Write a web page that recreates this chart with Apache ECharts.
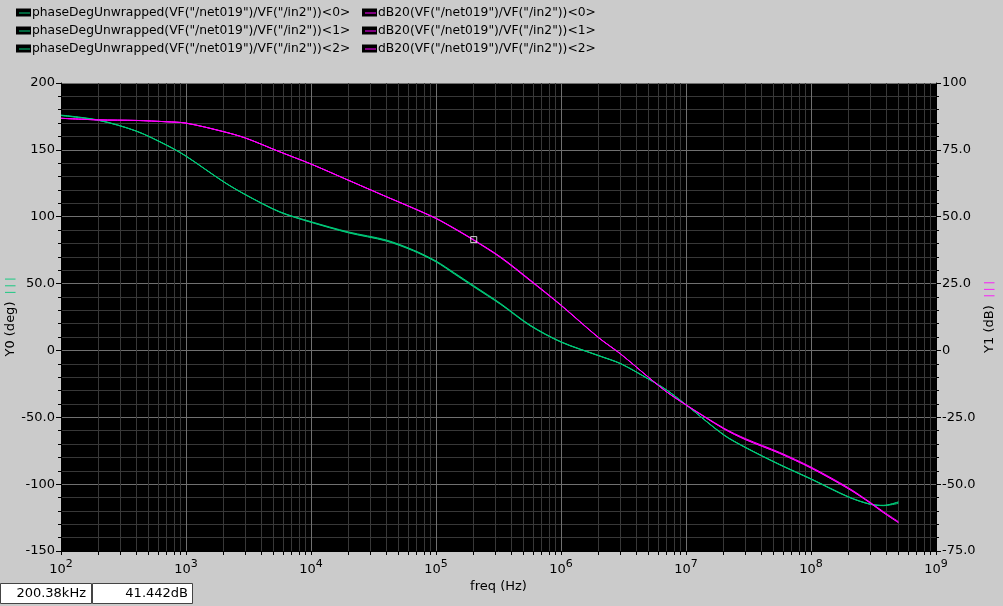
<!DOCTYPE html>
<html>
<head>
<meta charset="utf-8">
<script src="https://cdn.jsdelivr.net/npm/echarts@6/dist/echarts.min.js"></script>
<style>
html, body { margin: 0; padding: 0; background: #cbcbcb; }
#main { width: 1003px; height: 606px; }
</style>
</head>
<body>
<div id="main"></div>
<script>
// frequency points (Hz)
var freq = [1e2, 2e2, 4e2, 7e2, 1e3, 2e3, 3e3, 5.6e3, 1e4, 2e4, 4e4, 6.6e4, 1e5, 1.4e5, 2e5, 3.3e5,
  5.65e5, 1e6, 2e6, 3e6, 5e6, 7e6, 1e7, 2e7, 3e7, 5.6e7, 1e8, 2e8, 3e8, 3.8e8, 5e8];

// phase (deg), three sweeps
var phase0 = [176, 172.3, 164.1, 153.6, 145.4, 126.2, 116.5, 103.8, 96.3, 88.6, 82.6, 75.1, 66.9, 58.1, 48.5, 35.0,
  19.0, 6.5, -3.8, -9.8, -21.3, -29.6, -40.6, -63.3, -72.8, -85.5, -96.3, -109.8, -115.0, -116.1, -114.4];
var phase1 = [175.6, 172.0, 164.0, 153.4, 145.2, 126.0, 116.3, 103.5, 95.8, 87.9, 81.8, 74.4, 66.2, 57.2, 47.6, 34.3,
  18.5, 6.2, -4.0, -10.0, -21.4, -29.7, -40.7, -63.0, -72.5, -85.2, -96.0, -109.5, -115.2, -115.8, -113.6];
var phase2 = [175.8, 172.1, 164.0, 153.5, 145.3, 126.1, 116.4, 103.6, 96.0, 88.2, 82.1, 74.8, 66.5, 57.6, 48.0, 34.6,
  18.7, 6.3, -3.9, -9.9, -21.3, -29.6, -40.6, -63.1, -72.6, -85.3, -96.1, -109.6, -115.1, -116.0, -113.2];

// magnitude (dB), three sweeps
var db0 = [86.8, 86.2, 86.0, 85.5, 85.0, 81.8, 79.4, 74.3, 69.7, 63.6, 57.5, 53.2, 49.4, 45.7, 41.4, 34.9,
  26.4, 17.0, 4.8, -1.3, -10.0, -15.5, -20.4, -29.3, -33.4, -38.5, -44.0, -51.8, -57.2, -60.7, -64.4];
var db1 = [86.8, 86.2, 86.0, 85.5, 85.0, 81.8, 79.4, 74.3, 69.7, 63.6, 57.5, 53.1, 49.3, 45.5, 41.2, 34.6,
  26.1, 16.8, 4.7, -1.4, -10.0, -15.5, -20.3, -29.0, -33.0, -38.1, -43.6, -51.4, -56.9, -60.3, -64.0];
var db2 = [86.8, 86.2, 86.0, 85.5, 85.0, 81.8, 79.4, 74.3, 69.7, 63.6, 57.5, 53.2, 49.4, 45.6, 41.3, 34.8,
  26.3, 16.9, 4.8, -1.3, -10.0, -15.5, -20.4, -29.2, -33.3, -38.4, -43.9, -51.7, -57.1, -60.6, -64.3];

var phaseNames = ['phaseDegUnwrapped(VF("/net019")/VF("/in2"))<0>',
  'phaseDegUnwrapped(VF("/net019")/VF("/in2"))<1>',
  'phaseDegUnwrapped(VF("/net019")/VF("/in2"))<2>'];
var dbNames = ['dB20(VF("/net019")/VF("/in2"))<0>',
  'dB20(VF("/net019")/VF("/in2"))<1>',
  'dB20(VF("/net019")/VF("/in2"))<2>'];

// x ticks: decades and the 2..9 in between
var decadeTicks = [1e2, 1e3, 1e4, 1e5, 1e6, 1e7, 1e8, 1e9];
var allTicks = [];
for (var d = 2; d < 9; d++) {
  for (var k = 1; k < 10; k++) allTicks.push(k * Math.pow(10, d));
}
allTicks.push(1e9);

// marker readout
var markerFreq = 200380;
var markerDb = 41.442;

var GREEN = '#00c878';
var MAGENTA = '#ff00ff';
var FONT = '"DejaVu Sans", sans-serif';
var legendFont = '12.3px "DejaVu Sans", sans-serif';

function pairs(ys) {
  return freq.map(function (f, i) { return [f, ys[i]]; });
}

function yLabel(v) {
  if (v === 0) return '0';
  if (Math.abs(v) < 100) return v.toFixed(1);
  return String(v);
}

function legendItem(x, y, name, color) {
  return [
    { type: 'rect', shape: { x: x, y: y - 4, width: 15, height: 8 }, style: { fill: '#000' } },
    { type: 'line', shape: { x1: x + 3, y1: y + 0.5, x2: x + 14, y2: y + 0.5 }, style: { stroke: color, lineWidth: 1 } },
    { type: 'text', x: x + 16, y: y + 0.5, style: { text: name, font: legendFont, fill: '#000', verticalAlign: 'middle' } }
  ];
}

var graphics = [];
var rowsY = [12.5, 30.5, 48.5];
for (var i = 0; i < 3; i++) {
  graphics = graphics.concat(legendItem(16, rowsY[i], phaseNames[i], GREEN));
  graphics = graphics.concat(legendItem(362, rowsY[i], dbNames[i], MAGENTA));
}
// readout boxes bottom left
graphics.push(
  { type: 'rect', shape: { x: 0.5, y: 583.5, width: 91, height: 20 }, style: { fill: '#fff', stroke: '#444', lineWidth: 1 } },
  { type: 'text', x: 86, y: 594, style: { text: (markerFreq / 1000).toFixed(2) + 'kHz', font: '13px ' + FONT, fill: '#000', align: 'right', verticalAlign: 'middle' } },
  { type: 'rect', shape: { x: 92.5, y: 583.5, width: 100, height: 20 }, style: { fill: '#fff', stroke: '#444', lineWidth: 1 } },
  { type: 'text', x: 188, y: 594, style: { text: markerDb.toFixed(3) + 'dB', font: '13px ' + FONT, fill: '#000', align: 'right', verticalAlign: 'middle' } }
);

function lineSeries(name, ys, axisIdx, color) {
  return {
    name: name,
    type: 'line',
    yAxisIndex: axisIdx,
    data: pairs(ys),
    smooth: 0.3,
    symbol: 'none',
    lineStyle: { color: color, width: 1 },
    itemStyle: { color: color }
  };
}

var chart = echarts.init(document.getElementById('main'));
var option = {
  backgroundColor: '#cbcbcb',
  animation: false,
  textStyle: { fontFamily: FONT },
  graphic: graphics,
  grid: {
    show: true,
    left: 61,
    right: 67,
    top: 83,
    bottom: 55,
    containLabel: false,
    outerBoundsMode: 'none',
    backgroundColor: '#000',
    borderWidth: 0
  },
  xAxis: {
    type: 'log',
    logBase: 10,
    min: 1e2,
    max: 1e9,
    name: 'freq (Hz)',
    nameLocation: 'middle',
    nameGap: 29,
    nameMoveOverlap: false,
    nameTextStyle: { color: '#000', fontSize: 13, fontFamily: FONT },
    axisLine: { show: true, onZero: false, lineStyle: { color: '#000', width: 1 } },
    axisTick: { show: true, length: 4, customValues: allTicks, lineStyle: { color: '#000' } },
    axisLabel: {
      customValues: decadeTicks,
      margin: 8,
      color: '#000',
      formatter: function (v) {
        return '{b|10}{s|' + Math.round(Math.log10(v)) + '}';
      },
      rich: {
        b: { fontSize: 13, fontFamily: FONT, color: '#000', verticalAlign: 'bottom' },
        s: { fontSize: 11, fontFamily: FONT, color: '#000', verticalAlign: 'bottom', padding: [0, 0, 6, 0] }
      }
    },
    splitLine: {
      show: true,
      lineStyle: { color: ['#707070', '#383838', '#383838', '#383838', '#383838', '#383838', '#383838', '#383838', '#383838'], width: 1 }
    },
    minorTick: { show: false },
    minorSplitLine: { show: false }
  },
  yAxis: [
    {
      type: 'value',
      position: 'left',
      min: -150,
      max: 200,
      interval: 50,
      name: '{t|Y0 (deg)}  {m|| | |}',
      nameLocation: 'middle',
      nameRotate: 90,
      nameGap: 44,
      nameMoveOverlap: false,
      nameTextStyle: {
        rich: {
          t: { fontSize: 13, fontFamily: FONT, color: '#000' },
          m: { fontSize: 10, fontFamily: FONT, color: GREEN }
        }
      },
      axisLine: { show: true, lineStyle: { color: '#000' } },
      axisTick: { show: true, length: 5, lineStyle: { color: '#000' } },
      minorTick: { show: true, splitNumber: 5, length: 3, lineStyle: { color: '#000' } },
      axisLabel: { color: '#000', fontSize: 13, fontFamily: FONT, margin: 6, formatter: yLabel },
      splitLine: { show: true, lineStyle: { color: '#707070', width: 1 } },
      minorSplitLine: { show: true, lineStyle: { color: '#383838', width: 1 } }
    },
    {
      type: 'value',
      position: 'right',
      min: -75,
      max: 100,
      interval: 25,
      name: '{t|Y1 (dB)}  {m|| | |}',
      nameLocation: 'middle',
      nameRotate: 90,
      nameGap: 47,
      nameMoveOverlap: false,
      nameTextStyle: {
        rich: {
          t: { fontSize: 13, fontFamily: FONT, color: '#000' },
          m: { fontSize: 10, fontFamily: FONT, color: MAGENTA }
        }
      },
      axisLine: { show: true, lineStyle: { color: '#000' } },
      axisTick: { show: true, length: 5, lineStyle: { color: '#000' } },
      minorTick: { show: true, splitNumber: 5, length: 3, lineStyle: { color: '#000' } },
      axisLabel: { color: '#000', fontSize: 13, fontFamily: FONT, margin: 6, formatter: yLabel },
      splitLine: { show: false },
      minorSplitLine: { show: false }
    }
  ],
  series: [
    lineSeries(phaseNames[0], phase0, 0, GREEN),
    lineSeries(phaseNames[1], phase1, 0, GREEN),
    lineSeries(phaseNames[2], phase2, 0, GREEN),
    lineSeries(dbNames[0], db0, 1, MAGENTA),
    lineSeries(dbNames[1], db1, 1, MAGENTA),
    lineSeries(dbNames[2], db2, 1, MAGENTA),
    {
      name: 'marker',
      type: 'scatter',
      yAxisIndex: 1,
      data: [[markerFreq, markerDb]],
      symbol: 'rect',
      symbolSize: 6,
      z: 5,
      itemStyle: { color: 'rgba(0,0,0,0)', borderColor: '#fff', borderWidth: 1 }
    }
  ]
};
chart.setOption(option);
</script>
</body>
</html>
